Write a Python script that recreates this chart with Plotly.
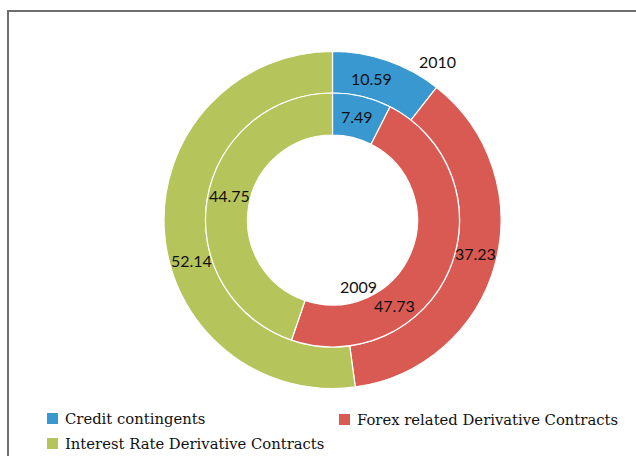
import math
import plotly.graph_objects as go

# Share of derivative exposure by contract type (%)
categories = ["Credit contingents", "Forex related Derivative Contracts",
              "Interest Rate Derivative Contracts"]
values_2010 = [10.59, 37.23, 52.14]
values_2009 = [7.49, 47.73, 44.75]
series_names = ["2010", "2009"]

colors = ["#3a98d0", "#d95a52", "#b6c55b"]

W, H = 636, 456
CX, CY = 332.5, 220.0          # ring centre in page pixels
R_OUT, R_MID, R_IN = 168.5, 127.0, 85.0


def px_x(x):
    return x / W


def px_y(y):
    return 1 - y / H


fig = go.Figure()

# outer ring: 2010
fig.add_trace(go.Pie(
    labels=categories, values=values_2010, name=series_names[0],
    sort=False, direction="clockwise", rotation=0,
    hole=R_MID / R_OUT,
    marker=dict(colors=colors, line=dict(color="white", width=1.2)),
    textinfo="none", hoverinfo="label+value", showlegend=False,
    domain=dict(x=[px_x(CX - R_OUT), px_x(CX + R_OUT)],
                y=[px_y(CY + R_OUT), px_y(CY - R_OUT)]),
))

# inner ring: 2009
fig.add_trace(go.Pie(
    labels=categories, values=values_2009, name=series_names[1],
    sort=False, direction="clockwise", rotation=0,
    hole=R_IN / R_MID,
    marker=dict(colors=colors, line=dict(color="white", width=1.2)),
    textinfo="none", hoverinfo="label+value", showlegend=False,
    domain=dict(x=[px_x(CX - R_MID), px_x(CX + R_MID)],
                y=[px_y(CY + R_MID), px_y(CY - R_MID)]),
))


def slice_labels(vals, radius, shifts):
    """Value labels placed at each slice's mid-angle (clockwise from 12 o'clock)."""
    out = []
    total = sum(vals)
    acc = 0.0
    for i, v in enumerate(vals):
        mid = (acc + v / 2) / total * 360 + shifts.get(i, 0)
        acc += v
        a = math.radians(mid)
        x = CX + radius * math.sin(a)
        y = CY - radius * math.cos(a)
        out.append(dict(x=px_x(x), y=px_y(y), text=f"{v:.2f}"))
    return out


label_font = dict(family="Lato, sans-serif", size=16, color="#111111")
annotations = []
for lab in (slice_labels(values_2010, 147, {0: -3.5, 1: -2, 2: -12})
            + slice_labels(values_2009, 106, {1: 31, 2: 4})):
    annotations.append(dict(xref="paper", yref="paper", x=lab["x"], y=lab["y"],
                            text=lab["text"], showarrow=False, font=label_font,
                            xanchor="center", yanchor="middle"))

# series names
annotations.append(dict(xref="paper", yref="paper", x=px_x(437), y=px_y(61),
                        text=series_names[0], showarrow=False, font=label_font,
                        xanchor="center", yanchor="middle"))
annotations.append(dict(xref="paper", yref="paper", x=px_x(358), y=px_y(286),
                        text=series_names[1], showarrow=False, font=label_font,
                        xanchor="center", yanchor="middle"))

# clipped heading text above the frame
annotations.append(dict(xref="paper", yref="paper", x=px_x(570), y=px_y(2),
                        text="p", showarrow=False,
                        font=dict(family="Liberation Serif, serif", size=16, color="#222"),
                        xanchor="center", yanchor="bottom"))

shapes = [dict(type="rect", xref="paper", yref="paper",
               x0=px_x(8), x1=1.2, y0=-0.2, y1=px_y(11),
               line=dict(color="#6f6f6f", width=2), fillcolor="rgba(0,0,0,0)")]

# legend: colour key + category name, two columns
legend_font = dict(family="DejaVu Serif, serif", size=14.8, color="#111111")
legend_slots = [(47, 418.5), (339, 419.5), (47, 443.5)]
for name, col, (lx, ly) in zip(categories, colors, legend_slots):
    shapes.append(dict(type="rect", xref="paper", yref="paper",
                       x0=px_x(lx), x1=px_x(lx + 11),
                       y0=px_y(ly + 5.5), y1=px_y(ly - 5.5),
                       line=dict(width=0), fillcolor=col))
    annotations.append(dict(xref="paper", yref="paper", x=px_x(lx + 16), y=px_y(ly),
                            text=name, showarrow=False, font=legend_font,
                            xanchor="left", yanchor="middle"))

fig.update_layout(
    width=W, height=H,
    margin=dict(l=0, r=0, t=0, b=0, autoexpand=False),
    paper_bgcolor="white", plot_bgcolor="white",
    annotations=annotations,
    shapes=shapes,
    showlegend=False,
)

fig.write_html("out.html")
